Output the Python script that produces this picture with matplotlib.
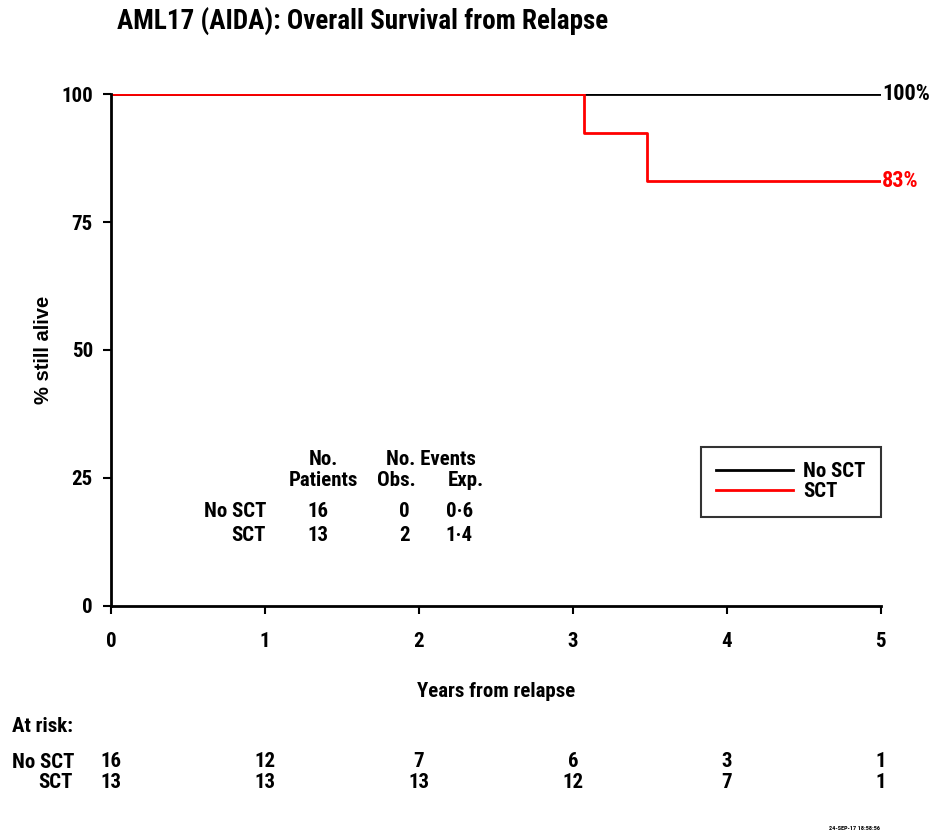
import matplotlib
matplotlib.use("Agg")
import matplotlib.pyplot as plt
from matplotlib import font_manager

# pick a narrow sans if one is installed, else shrink Liberation Sans
names = {f.name for f in font_manager.fontManager.ttflist}
cond = [f for f in font_manager.fontManager.ttflist
        if f.stretch in ("condensed", "semi-condensed", "extra-condensed")
        or (isinstance(f.stretch, int) and f.stretch < 500)]
stretch = "normal"
scale = 1.0
if "Liberation Sans Narrow" in names:
    fam = "Liberation Sans Narrow"
elif "Roboto Condensed" in names:
    fam = "Roboto Condensed"
elif any(f.name == "DejaVu Sans" for f in cond):
    fam = "DejaVu Sans"
    stretch = "condensed"
    scale = 0.9
else:
    fam = "Liberation Sans"
    scale = 0.86
plt.rcParams["font.family"] = [fam, "DejaVu Sans"]
plt.rcParams["font.stretch"] = stretch
plt.rcParams["font.weight"] = "bold"
plt.rcParams["axes.labelweight"] = "bold"

# survival curves (years, % alive)
nosct_t = [0, 5]
nosct_s = [100, 100]
sct_t = [0, 3.07, 3.48, 5]
sct_s = [100, 92.3, 83.1, 83.1]

groups = ["No SCT", "SCT"]
patients = [16, 13]
obs = [0, 2]
exp_ = ["0·6", "1·4"]

risk_times = [0, 1, 2, 3, 4, 5]
risk_nosct = [16, 12, 7, 6, 3, 1]
risk_sct = [13, 13, 13, 12, 7, 1]

fig = plt.figure(figsize=(9.33, 8.35), dpi=100)
ax = fig.add_axes([0.119, 0.2743, 0.825, 0.6131])

ax.step(nosct_t, nosct_s, where="post", color="black", lw=2, label="No SCT")
ax.step(sct_t, sct_s, where="post", color="red", lw=2, label="SCT")

ax.set_xlim(0, 5)
ax.set_ylim(0, 100)
ax.set_xticks(range(6))
ax.set_yticks([0, 25, 50, 75, 100])
for s in ["top", "right"]:
    ax.spines[s].set_visible(False)
for s in ["left", "bottom"]:
    ax.spines[s].set_linewidth(2)
ax.tick_params(width=1.5, length=6, labelsize=15 * scale)
ax.tick_params(axis="x", pad=13)
ax.tick_params(axis="y", pad=7)

ax.set_xlabel("Years from relapse", fontsize=15 * scale)
ax.xaxis.set_label_coords(0.5, -0.148)
ax.set_ylabel("% still alive", fontsize=14.5, family="Liberation Sans",
              stretch="normal")
ax.yaxis.set_label_coords(-0.075, 0.5)

fig.text(0.125, 0.974, "AML17 (AIDA): Overall Survival from Relapse",
         fontsize=19.5 * scale, ha="left", va="center")

ax.text(5.01, nosct_s[-1], "100%", fontsize=16 * scale, va="center", ha="left",
        color="black")
ax.text(5.01, sct_s[-1], "83%", fontsize=16 * scale, va="center", ha="left",
        color="red")

leg = ax.legend(loc="lower right", bbox_to_anchor=(1.0, 0.174), borderaxespad=0,
                fontsize=15 * scale, handlelength=3.7, fancybox=False,
                frameon=True, edgecolor="black", borderpad=0.75,
                labelspacing=0.05, handletextpad=0.45)
leg.get_frame().set_linewidth(1.5)

# stats table
fs = 15 * scale
ax.text(1.383, 28.7, "No.", fontsize=fs, ha="center", va="center")
ax.text(1.383, 24.6, "Patients", fontsize=fs, ha="center", va="center")
ax.text(2.078, 28.7, "No. Events", fontsize=fs, ha="center", va="center")
ax.text(1.851, 24.6, "Obs.", fontsize=fs, ha="center", va="center")
ax.text(2.305, 24.6, "Exp.", fontsize=fs, ha="center", va="center")
for i, g in enumerate(groups):
    yy = 18.36 - 4.5 * i
    ax.text(1.006, yy, g, fontsize=fs, ha="right", va="center")
    ax.text(1.41, yy, str(patients[i]), fontsize=fs, ha="right", va="center")
    ax.text(1.94, yy, str(obs[i]), fontsize=fs, ha="right", va="center")
    ax.text(2.35, yy, exp_[i], fontsize=fs, ha="right", va="center")

# at risk table
trans = ax.get_xaxis_transform()
fig.text(12 / 933, 1 - 727 / 835, "At risk:", fontsize=15 * scale, ha="left",
         va="center")
fig.text(12 / 933, 1 - 762 / 835, "No SCT", fontsize=15 * scale, ha="left",
         va="center")
fig.text(73 / 933, 1 - 783 / 835, "SCT", fontsize=15 * scale, ha="right",
         va="center")
for t, a, b in zip(risk_times, risk_nosct, risk_sct):
    ax.text(t, -(762 - 606) / 512, str(a), transform=trans, fontsize=15 * scale,
            ha="center", va="center")
    ax.text(t, -(783 - 606) / 512, str(b), transform=trans, fontsize=15 * scale,
            ha="center", va="center")

fig.text(880 / 933, 1 - 828 / 835, "24-SEP-17 18:58:56", fontsize=4.5,
         ha="right", va="center")

fig.savefig("out.png", dpi=100)
